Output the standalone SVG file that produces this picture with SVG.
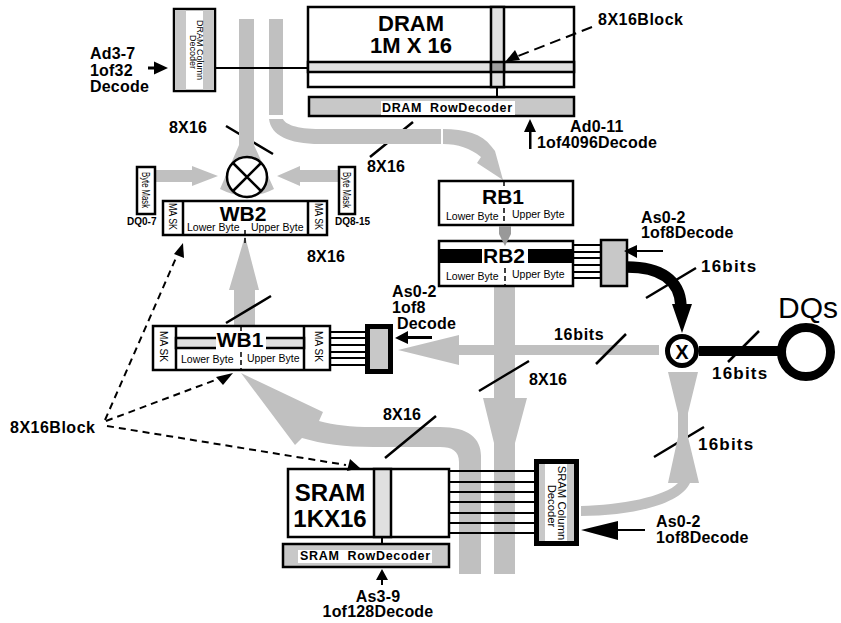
<svg xmlns="http://www.w3.org/2000/svg" width="841" height="623" viewBox="0 0 841 623">
<style>
text{font-family:"Liberation Sans",Arial,sans-serif;fill:#000}
.l{font-weight:bold;font-size:16px;letter-spacing:.2px}
.b{font-weight:bold;font-size:17px;letter-spacing:1.2px}
.t{font-weight:bold;font-size:21px;text-anchor:middle}
.s{font-size:10.5px}
.m{font-size:10px}
.r{font-weight:bold;font-size:12.5px;word-spacing:4px;text-anchor:middle}
.k{stroke:#000;fill:none;stroke-width:2.5}
.w{stroke:#000;stroke-width:2;fill:none}
.g{fill:#c0c0c0;stroke:none}
.box{fill:#fff;stroke:#000;stroke-width:2.5}
.gb{fill:#c8c8c8;stroke:#000;stroke-width:2.5}
.lg{fill:#e0e0e0;stroke:#000;stroke-width:2.5}
.d{stroke:#000;stroke-width:2;stroke-dasharray:7 5;fill:none}
.dv{stroke:#000;stroke-width:1.5;stroke-dasharray:5 3;fill:none}
.a{fill:#000;stroke:none}
</style>
<g id="connectors-under">
<path class="k" d="M226 126L273 154M370 157L413 122M654 457L704 427"/>
<path class="g" d="M239 19H254V145L274 189Q247 203 220 189L239 145Z"/>
<rect class="g" x="269" y="19" width="14" height="96"/>
<path class="g" d="M269 119H283C285 124 296 129 320 129H441V144H320C288 144 271 135 269 119Z"/>
<path class="g" d="M443 129C465 129 482 134 491 146L495 151L503 180L477 163L481 157C470 148 458 144 443 144Z"/>
<path class="g" d="M155 170H192V166L218 176L192 186V182H155Z"/>
<path class="g" d="M339 170H300V166L277 176L300 186V182H339Z"/>
<path class="g" d="M245 236L259 290H255V326H234V290H229Z"/>
<path class="g" d="M494 286H515V398H527L515 443V574H494V443L483 398H494Z"/>
<path class="g" d="M659 345H459V335L398 350L459 365V355H659Z"/>
<path class="g" d="M241 373L323 412L319 421C335 425 350 427 373 427H440C468 427 481 438 481 456V574H459V462C459 451 452 447 440 447H373C345 447 322 444 302 438L295 445Z"/>
<path class="g" d="M668 372H698L688 413V437L699 483H690C680 505 630 516 581 516V506C620 505 665 497 678 483H668L678 437V413Z"/>
</g>
<g id="dram">
<rect class="box" x="308" y="7" width="266" height="80"/>
<rect class="lg" x="308" y="62" width="266" height="10"/>
<rect class="lg" x="491" y="7" width="13" height="80"/>
<rect x="491" y="62" width="13" height="10" fill="#a0a0a0" stroke="#000" stroke-width="2.500"/>
<text class="t" x="411" y="31" style="font-size:22px">DRAM</text>
<text class="t" x="411" y="53" style="font-size:22px">1M X 16</text>
</g>
<g id="dram-row-decoder">
<rect class="gb" x="309" y="97" width="265" height="19"/>
<rect x="381" y="101" width="134" height="14" fill="#fff"/>
<text class="r" x="447" y="112" textLength="130">DRAM RowDecoder</text>
</g>
<g id="dram-column-decoder">
<rect class="box" x="174" y="9" width="41" height="82"/>
<rect x="175" y="10" width="11" height="80" fill="#c8c8c8"/>
<rect x="203" y="10" width="11" height="80" fill="#c8c8c8"/>
<text style="font-size:9px" text-anchor="middle" transform="translate(197 50) rotate(90)">DRAM Column</text>
<text style="font-size:9px" text-anchor="middle" transform="translate(190 52) rotate(90)">Decoder</text>
</g>
<g id="mux-top">
<circle cx="247" cy="177" r="20" fill="#fff" stroke="#000" stroke-width="2.500"/>
<path class="k" d="M233 163L261 191M261 163L233 191"/>
</g>
<g id="byte-mask-left">
<rect class="box" x="137" y="167" width="18" height="47"/>
<text class="m" transform="translate(142 172) rotate(90)" textLength="36" lengthAdjust="spacingAndGlyphs">Byte Mask</text>
</g>
<g id="byte-mask-right">
<rect class="box" x="339" y="167" width="16" height="47"/>
<text class="m" transform="translate(343 172) rotate(90)" textLength="36" lengthAdjust="spacingAndGlyphs">Byte Mask</text>
</g>
<g id="wb2">
<rect class="box" x="163" y="201" width="164" height="34"/>
<path class="k" d="M183 201V235M308 201V235"/>
<text class="m" transform="translate(169 203) rotate(90)" textLength="27" lengthAdjust="spacingAndGlyphs">MA SK</text>
<text class="m" transform="translate(315 203) rotate(90)" textLength="27" lengthAdjust="spacingAndGlyphs">MA SK</text>
<text class="t" x="243" y="221">WB2</text>
<text class="s" x="187" y="231">Lower Byte</text>
<text class="s" x="251" y="231">Upper Byte</text>
<path class="dv" d="M245 230V235M245 238V245"/>
</g>
<g id="wb1">
<rect class="box" x="153" y="326" width="177" height="44"/>
<path class="k" d="M176 326V370M304 326V370"/>
<rect class="lg" x="176" y="338" width="128" height="10"/>
<rect x="216" y="333" width="50" height="18" fill="#fff"/>
<text class="m" transform="translate(160 331) rotate(90)" textLength="31" lengthAdjust="spacingAndGlyphs">MA SK</text>
<text class="m" transform="translate(315 331) rotate(90)" textLength="31" lengthAdjust="spacingAndGlyphs">MA SK</text>
<text class="t" x="240" y="347">WB1</text>
<text class="s" x="181" y="363">Lower Byte</text>
<text class="s" x="247" y="362">Upper Byte</text>
<path class="dv" d="M241 326V332M241 352V370"/>
</g>
<g id="wb1-decoder">
<rect x="367.500" y="326.500" width="23" height="45" fill="#c8c8c8" stroke="#000" stroke-width="5"/>
</g>
<g id="rb1">
<rect class="box" x="439" y="181" width="134" height="44"/>
<text class="t" x="503" y="204">RB1</text>
<text class="s" x="446" y="220">Lower Byte</text>
<text class="s" x="512" y="218">Upper Byte</text>
<path class="dv" d="M504 181V186M504 208V225"/>
</g>
<g id="rb2">
<rect class="box" x="439" y="241" width="134" height="45"/>
<rect x="439" y="249" width="134" height="14" fill="#000"/>
<rect x="482" y="249" width="46" height="14" fill="#fff"/>
<text class="t" x="504" y="263">RB2</text>
<text class="s" x="446" y="280">Lower Byte</text>
<text class="s" x="512" y="278">Upper Byte</text>
<path class="dv" d="M505 268V286"/>
</g>
<g id="rb2-decoder">
<rect class="gb" x="601" y="240" width="26" height="46"/>
</g>
<g id="sram">
<rect class="box" x="288" y="469" width="161" height="68"/>
<rect class="lg" x="374" y="469" width="17" height="68"/>
<text x="330" y="501" text-anchor="middle" style="font-weight:bold;font-size:24px">SRAM</text>
<text x="330" y="527" text-anchor="middle" style="font-weight:bold;font-size:24px">1KX16</text>
</g>
<g id="sram-row-decoder">
<rect class="gb" x="283" y="544" width="166" height="23"/>
<rect x="298" y="550" width="134" height="13" fill="#fff"/>
<text class="r" x="365" y="560" textLength="130">SRAM RowDecoder</text>
</g>
<g id="sram-column-decoder">
<rect x="536.500" y="461.500" width="40" height="82" fill="#fff" stroke="#000" stroke-width="5"/>
<rect x="539" y="464" width="6" height="77" fill="#c8c8c8"/>
<rect x="567" y="464" width="7" height="77" fill="#c8c8c8"/>
<text style="font-size:11.300px" text-anchor="middle" transform="translate(558 503) rotate(90)">SRAM Column</text>
<text style="font-size:11.300px" text-anchor="middle" transform="translate(548 506) rotate(90)">Decoder</text>
</g>
<g id="connectors">
<path class="w" d="M216 68H308"/>
<path class="a" d="M148 66.500H154V61.500L168 68L154 74.500V69.500H148Z"/>
<path fill="none" stroke="#000" stroke-width="11.500" d="M627 267C660 267 680 280 681 306"/>
<path class="a" d="M672 304H692L682 333Z"/>
<path fill="none" stroke="#000" stroke-width="10" d="M699 351H785"/>
<path class="k" d="M646 298L696 268M728 362L759 331M596 364L626 334M479 391L529 361M226 323L271 296M385 458L436 416"/>
<path class="w" d="M497 87V97M382 537V544"/>
<path class="w" d="M330 332H365M330 338H365M330 345H365M330 352H365M330 358H365M330 365H365"/>
<path class="w" d="M573 245H601M573 252H601M573 258H601M573 265H601M573 272H601M573 278H601"/>
<path class="w" d="M449 471H534M449 482H534M449 492H534M449 502H534M449 513H534M449 523H534M449 533H534"/>
<path class="a" d="M529 149V132H524L530 119L536 132H531.500V149Z"/>
<path class="a" d="M432 336V339H408V344L395 338L408 331V336Z"/>
<path class="a" d="M663 250V252H637V258L624 251L637 245V250Z"/>
<path class="a" d="M645 529V531H618V540L581 530L618 521V529Z"/>
<path class="a" d="M381 585V580H376L382 569L388 580H383V585Z"/>
<path fill="#999" d="M499 226H511L511 234L505 246L499 234Z"/>
<path class="d" style="stroke-dasharray:11 6" d="M592 27L518 56"/>
<path class="a" d="M505 62L515 50L520 60Z"/>
<path class="d" d="M105 420L176 258"/>
<path class="a" d="M183 243L184 258L174 254Z"/>
<path class="d" d="M106 421L218 379"/>
<path class="a" d="M233 373L223 385L216 377Z"/>
<path class="d" d="M107 426L346 465"/>
<path class="a" d="M360 468L347 471L350 459Z"/>
</g>
<g id="mux-x">
<circle cx="682" cy="351" r="14.500" fill="#fff" stroke="#000" stroke-width="5"/>
<text x="682" y="359" text-anchor="middle" style="font-weight:bold;font-size:20px">X</text>
</g>
<g id="dqs">
<circle cx="806" cy="352" r="24.500" fill="#fff" stroke="#000" stroke-width="9"/>
<text x="778" y="318" style="font-size:30px">DQs</text>
</g>
<g id="labels">
<text class="l" x="90" y="59">Ad3-7</text>
<text class="l" x="90" y="76">1of32</text>
<text class="l" x="90" y="92">Decode</text>
<text class="l" x="169" y="133">8X16</text>
<text class="l" x="367" y="172">8X16</text>
<text class="l" x="598" y="25" style="letter-spacing:.5px">8X16Block</text>
<text class="l" x="570" y="132">Ad0-11</text>
<text class="l" x="537" y="148">1of4096Decode</text>
<text x="127" y="225" style="font-weight:bold;font-size:10px">DQ0-7</text>
<text x="335" y="225" style="font-weight:bold;font-size:10px">DQ8-15</text>
<text class="l" x="307" y="262">8X16</text>
<text class="l" x="392" y="297">As0-2</text>
<text class="l" x="392" y="313">1of8</text>
<text class="l" x="397" y="329">Decode</text>
<text class="l" x="641" y="223">As0-2</text>
<text class="l" x="641" y="238">1of8Decode</text>
<text class="b" x="701" y="272">16bits</text>
<text class="b" x="554" y="340" style="font-size:16px;letter-spacing:.7px">16bits</text>
<text class="b" x="712" y="379">16bits</text>
<text class="l" x="529" y="385">8X16</text>
<text class="l" x="383" y="420">8X16</text>
<text class="b" x="698" y="450">16bits</text>
<text class="l" x="10" y="433" style="letter-spacing:.5px">8X16Block</text>
<text class="l" x="656" y="527">As0-2</text>
<text class="l" x="656" y="543">1of8Decode</text>
<text class="l" x="378" y="602" text-anchor="middle">As3-9</text>
<text class="l" x="378" y="617" text-anchor="middle">1of128Decode</text>
</g>
</svg>
